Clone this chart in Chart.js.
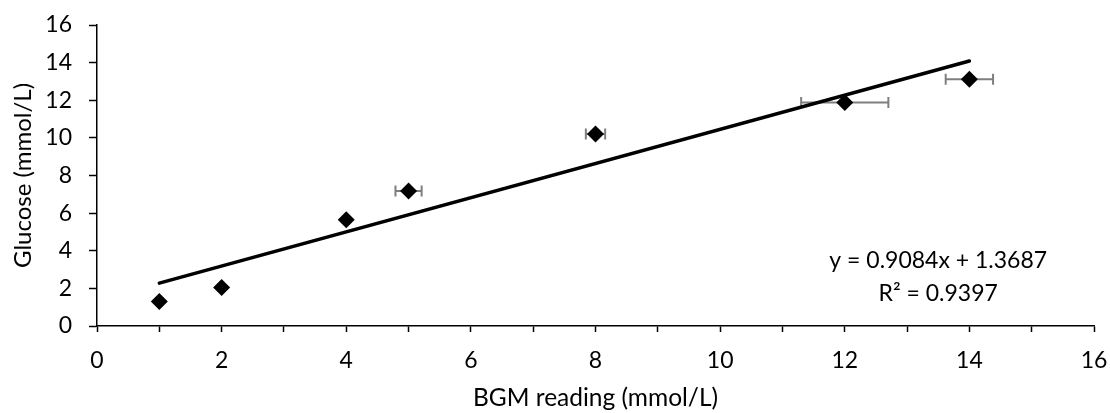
<!DOCTYPE html>
<html><head><meta charset="utf-8">
<script src="https://cdn.jsdelivr.net/npm/chart.js@4/dist/chart.umd.min.js"></script>
<style>html,body{margin:0;padding:0;background:#fff}#wrap{width:1110px;height:413px;position:relative}</style>
</head><body><div id="wrap"><canvas id="c"></canvas></div>
<script>
// ---- data ----
const bgmReading = [1, 2, 4, 5, 8, 12, 14];
const glucose = [1.30, 2.04, 5.65, 7.18, 10.20, 11.88, 13.12];
const xError = [0, 0, 0, 0.21, 0.155, 0.70, 0.38];
const trendSlope = 0.9084;
const trendIntercept = 1.3687;
const trendRange = [1, 14];
const equationLines = ['y = 0.9084x + 1.3687', 'R\u00B2 = 0.9397'];
const equationAnchor = {x: 13.5, y: [3.5, 1.75]};
const xTitle = 'BGM reading (mmol/L)';
const yTitle = 'Glucose (mmol/L)';
const axisMin = 0, axisMax = 16;

const FONT = 'Lato, "Open Sans", sans-serif';

const points = bgmReading.map((x, i) => ({x: x, y: glucose[i]}));
const trend = trendRange.map(x => ({x: x, y: trendSlope * x + trendIntercept}));

const errorBarPlugin = {
  id: 'errorBars',
  beforeDatasetsDraw(chart) {
    const {ctx, scales: {x: xs, y: ys}} = chart;
    ctx.save();
    ctx.strokeStyle = '#7f7f7f';
    ctx.lineWidth = 2;
    bgmReading.forEach((x, i) => {
      const e = xError[i];
      if (!e) return;
      const x1 = xs.getPixelForValue(x - e), x2 = xs.getPixelForValue(x + e);
      const y = ys.getPixelForValue(glucose[i]);
      ctx.beginPath();
      ctx.moveTo(x1, y); ctx.lineTo(x2, y);
      ctx.moveTo(x1, y - 5.5); ctx.lineTo(x1, y + 5.5);
      ctx.moveTo(x2, y - 5.5); ctx.lineTo(x2, y + 5.5);
      ctx.stroke();
    });
    ctx.restore();
  }
};

const equationPlugin = {
  id: 'equation',
  afterDatasetsDraw(chart) {
    const {ctx, scales: {x: xs, y: ys}} = chart;
    ctx.save();
    ctx.fillStyle = '#000';
    ctx.font = '23px ' + FONT;
    ctx.textAlign = 'center';
    ctx.textBaseline = 'middle';
    equationLines.forEach((t, i) => {
      ctx.fillText(t, xs.getPixelForValue(equationAnchor.x), ys.getPixelForValue(equationAnchor.y[i]));
    });
    ctx.restore();
  }
};

new Chart(document.getElementById('c'), {
  type: 'scatter',
  data: {
    datasets: [
      {
        label: 'Glucose',
        data: points,
        pointStyle: 'rectRot',
        pointRadius: 8.5,
        pointHoverRadius: 8.5,
        backgroundColor: '#000',
        borderColor: '#000',
        borderWidth: 0,
        order: 2
      },
      {
        label: 'Linear trend',
        type: 'line',
        data: trend,
        borderColor: '#000',
        borderWidth: 3.5,
        pointRadius: 0,
        fill: false,
        borderCapStyle: 'round',
        order: 1
      }
    ]
  },
  options: {
    responsive: true,
    maintainAspectRatio: false,
    animation: false,
    layout: {padding: {left: 0, right: 16, top: 25, bottom: 0}},
    plugins: {legend: {display: false}, tooltip: {enabled: false}},
    scales: {
      x: {
        type: 'linear',
        min: axisMin, max: axisMax,
        afterFit(s) { s.height = 87; s.paddingLeft = 0; s.paddingRight = 0; },
        border: {display: true, color: '#000', width: 1.5},
        grid: {drawOnChartArea: false, drawTicks: true, tickLength: 6, tickColor: '#000', tickWidth: 1.5},
        ticks: {
          stepSize: 1, autoSkip: false, maxRotation: 0, padding: 15,
          color: '#000', font: {family: FONT, size: 23},
          callback: v => (v % 2 === 0 ? String(v) : '')
        },
        title: {display: true, text: xTitle, color: '#000', font: {family: FONT, size: 24.5}, padding: {top: 0, bottom: 0}}
      },
      y: {
        type: 'linear',
        min: axisMin, max: axisMax,
        afterFit(s) { s.width = 97; s.paddingTop = 0; s.paddingBottom = 0; },
        border: {display: true, color: '#000', width: 1.5},
        grid: {drawOnChartArea: false, drawTicks: true, tickLength: 8, tickColor: '#000', tickWidth: 1.5},
        ticks: {
          stepSize: 2, autoSkip: false, padding: 17,
          color: '#000', font: {family: FONT, size: 23}
        },
        title: {display: true, text: yTitle, color: '#000', font: {family: FONT, size: 24}, padding: {top: 9, bottom: 0}}
      }
    }
  },
  plugins: [errorBarPlugin, equationPlugin]
});
</script>
</body></html>
